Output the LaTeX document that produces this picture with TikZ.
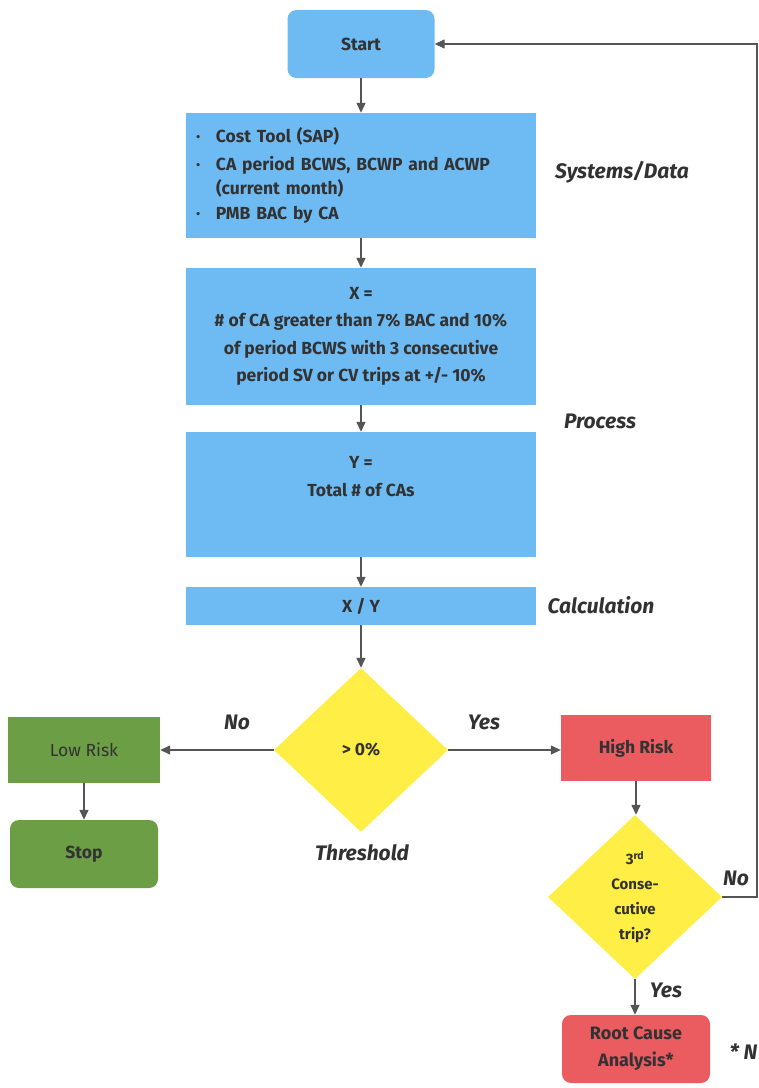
\documentclass[tikz,border=0pt]{standalone}
\usepackage{fontspec}
\setmainfont{Fira Sans}
\usetikzlibrary{shapes.geometric,arrows.meta}
\definecolor{boxblue}{RGB}{110,187,244}
\definecolor{riskgreen}{RGB}{108,158,70}
\definecolor{riskred}{RGB}{234,92,96}
\definecolor{decyellow}{RGB}{255,238,70}
\definecolor{ink}{RGB}{50,50,50}
\definecolor{wire}{RGB}{85,85,85}
\begin{document}
\begin{tikzpicture}[x=1pt,y=-1pt,
    box/.style={inner sep=0pt, text=ink, align=center,
      font=\bfseries\fontsize{17.5}{27.5}\selectfont},
    bluebox/.style={box, fill=boxblue, minimum width=350pt},
    roundbox/.style={box, rounded corners=9pt, minimum height=68pt},
    decision/.style={box, diamond, fill=decyellow, minimum width=174pt,
      minimum height=164pt, aspect=1.06},
    side/.style={text=ink, font=\bfseries\itshape\fontsize{21}{23}\selectfont},
    flow/.style={draw=wire, line width=1.4pt, -{Triangle[length=10pt,width=9pt]}}]
  \useasboundingbox (0,0) rectangle (759,1088);
  % main column
  \node[roundbox, fill=boxblue, minimum width=147pt] (start) at (361,44) {Start};
  \node[bluebox, minimum height=125pt, text width=330pt, align=left] (data) at (361,175.5)
    {\makebox[20pt][l]{·}Cost Tool (SAP)\\
     \makebox[20pt][l]{·}CA period BCWS, BCWP and ACWP\\[-3pt]
     \hspace*{20pt}(current month)\\[-3pt]
     \makebox[20pt][l]{·}PMB BAC by CA};
  \node[bluebox, minimum height=137pt] (x) at (361,336.5)
    {X =\\\# of CA greater than 7\% BAC and 10\%\\of period BCWS with 3 consecutive\\period SV or CV trips at +/- 10\%};
  \node[bluebox, minimum height=125pt] (y) at (361,494.5)
    {Y =\\Total \# of CAs\\\strut};
  \node[bluebox, minimum height=38pt] (xy) at (361,606) {X / Y};
  \node[decision] (dec1) at (361,750) {> 0\%};
  % branches
  \node[box, fill=riskgreen, minimum width=152pt, minimum height=66pt,
    font=\fontsize{17.5}{20}\selectfont] (low) at (84,750) {Low Risk};
  \node[roundbox, fill=riskgreen, minimum width=148pt] (stop) at (84,854) {Stop};
  \node[box, fill=riskred, minimum width=150pt, minimum height=66pt] (high) at (636,748) {High Risk};
  \node[decision, font=\bfseries\fontsize{15}{25}\selectfont] (dec2) at (635,897)
    {3\textsuperscript{rd}\\Conse-\\cutive\\trip?};
  \node[roundbox, fill=riskred, minimum width=148pt, font=\bfseries\fontsize{18}{27}\selectfont] (root) at (636,1049)
    {Root Cause\\Analysis*};
  \coordinate (loop) at (757,44);
  % side labels
  \node[side] (sysl) at (622,172) {Systems/Data};
  \node[side] (procl) at (600,421) {Process};
  \node[side] (calcl) at (601,605) {Calculation};
  \node[side] (nol) at (237,722) {No};
  \node[side] (yesl) at (484,722) {Yes};
  \node[side] (thrl) at (362,853) {Threshold};
  \node[side] (no2l) at (736,878) {No};
  \node[side] (yes2l) at (666,990) {Yes};
  \node[side, anchor=west] (notel) at (726,1052) {* N};
  \begin{scope}[flow]
    \draw (start) -- (data);
    \draw (data) -- (x);
    \draw (x) -- (y);
    \draw (y) -- (xy);
    \draw (xy) -- (dec1);
    \draw (dec1) -- (low);
    \draw (dec1.east) -- (dec1.east -| high.west);
    \draw (low) -- (stop);
    \draw (high.south) -- (high.south |- dec2.north);
    \draw (dec2.south) -- (dec2.south |- root.north);
    \draw (dec2.east) -| (loop) -- (start.east);
  \end{scope}
\end{tikzpicture}
\end{document}
